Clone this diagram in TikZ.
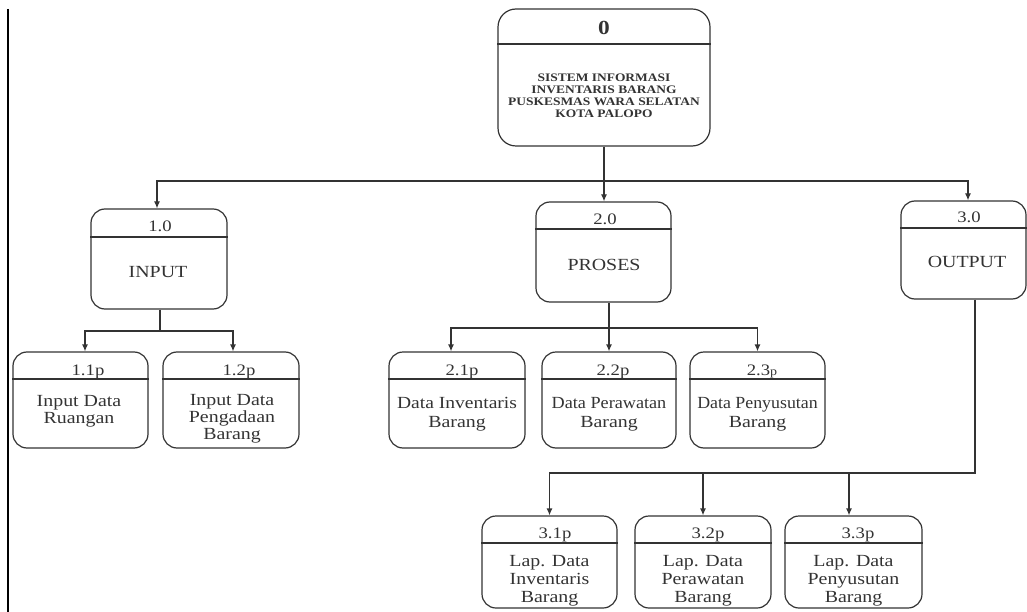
\documentclass[tikz,border=0pt]{standalone}
\usepackage{fontspec}
\setmainfont{Liberation Serif}
\usetikzlibrary{arrows.meta,calc}
\definecolor{boxc}{HTML}{333333}
\definecolor{txtc}{HTML}{333333}
\newcommand\sx[1]{\scalebox{1.17}[1]{#1}}
\newcommand\sxn[2]{\scalebox{#1}[1]{#2}}
\tikzset{
  box/.style={draw=boxc, line width=1.2pt, rounded corners=14pt, inner sep=0pt},
  lbl/.style={anchor=base, text=txtc, font=\fontsize{16}{17}\selectfont, inner sep=0pt},
  txt/.style={align=center, text=txtc, font=\fontsize{17}{18}\selectfont, inner sep=0pt},
  conn/.style={draw=boxc, line width=1.2pt},
  arr/.style={conn, -{Latex[length=7pt,width=6pt]}},
  divl/.style={draw=boxc, line width=1.2pt}
}
\begin{document}
\begin{tikzpicture}[x=1pt,y=-1pt]
\useasboundingbox (0,0) rectangle (1027,612);
\draw[black, line width=1.3pt] (8,9) -- (8,612);

% top box
\node[box, rounded corners=18pt, minimum width=212pt, minimum height=137pt] (b0) at (604,77.5) {};
\draw[divl] (b0.west |- 0,44) -- (b0.east |- 0,44);
\node[anchor=base, text=txtc, font=\fontsize{20}{22}\selectfont\bfseries, inner sep=0pt] (l0) at (604,35) {\sx{0}};
\node[align=center, text=txtc, font=\fontsize{11.5}{12}\selectfont\bfseries, inner sep=0pt] (t0) at (604,95.5)
  {\sx{SISTEM INFORMASI}\\\sx{INVENTARIS BARANG}\\\sx{PUSKESMAS WARA SELATAN}\\\sx{KOTA PALOPO}};

% level 1
\node[box, minimum width=136pt, minimum height=100pt] (b1) at (159,259) {};
\draw[divl] (b1.west |- 0,237) -- (b1.east |- 0,237);
\node[lbl] (l1) at (160,232) {\sx{1.0}};
\node[txt, anchor=base] (t1) at (158,277) {\sx{INPUT}};

\node[box, minimum width=135pt, minimum height=100pt] (b2) at (603.5,252) {};
\draw[divl] (b2.west |- 0,229) -- (b2.east |- 0,229);
\node[lbl] (l2) at (605,225) {\sx{2.0}};
\node[txt, anchor=base] (t2) at (604,270) {\sx{PROSES}};

\node[box, minimum width=125pt, minimum height=98pt] (b3) at (963.5,250) {};
\draw[divl] (b3.west |- 0,228) -- (b3.east |- 0,228);
\node[lbl] (l3) at (969,223) {\sx{3.0}};
\node[txt, anchor=base] (t3) at (967,267) {\sx{OUTPUT}};

% level 2 under INPUT
\node[box, minimum width=135pt, minimum height=96pt] (b11) at (80.5,400) {};
\draw[divl] (b11.west |- 0,379) -- (b11.east |- 0,379);
\node[lbl] (l11) at (88,375) {\sx{1.1p}};
\node[txt] (t11) at (79,411) {\sx{Input Data}\\[-1pt]\sx{Ruangan}};

\node[box, minimum width=136pt, minimum height=96pt] (b12) at (231,400) {};
\draw[divl] (b12.west |- 0,379) -- (b12.east |- 0,379);
\node[lbl] (l12) at (239,375) {\sx{1.2p}};
\node[txt] (t12) at (232,419) {\sx{Input Data}\\[-1pt]\sx{Pengadaan}\\[-1pt]\sx{Barang}};

% level 2 under PROSES
\node[box, minimum width=136pt, minimum height=96pt] (b21) at (457,400) {};
\draw[divl] (b21.west |- 0,379) -- (b21.east |- 0,379);
\node[lbl] (l21) at (462,375) {\sx{2.1p}};
\node[txt] (t21) at (457,414) {\sxn{1.15}{Data Inventaris}\\[1pt]\sx{Barang}};

\node[box, minimum width=134pt, minimum height=96pt] (b22) at (609,400) {};
\draw[divl] (b22.west |- 0,379) -- (b22.east |- 0,379);
\node[lbl] (l22) at (613,375) {\sx{2.2p}};
\node[txt] (t22) at (609,414) {\sxn{1.07}{Data Perawatan}\\[1pt]\sx{Barang}};

\node[box, minimum width=135pt, minimum height=96pt] (b23) at (757.5,400) {};
\draw[divl] (b23.west |- 0,379) -- (b23.east |- 0,379);
\node[lbl] (l23) at (762,375) {\sx{2.3{\fontsize{12}{13}\selectfont p}}};
\node[txt] (t23) at (757.5,414) {\sxn{1.05}{Data Penyusutan}\\[1pt]\sx{Barang}};

% level 2 under OUTPUT
\node[box, minimum width=135pt, minimum height=92pt] (b31) at (549.5,562) {};
\draw[divl] (b31.west |- 0,543) -- (b31.east |- 0,543);
\node[lbl] (l31) at (555,538) {\sx{3.1p}};
\node[txt] (t31) at (549.5,581) {\sx{Lap. Data}\\\sx{Inventaris}\\\sx{Barang}};

\node[box, minimum width=136pt, minimum height=92pt] (b32) at (703,562) {};
\draw[divl] (b32.west |- 0,543) -- (b32.east |- 0,543);
\node[lbl] (l32) at (708,538) {\sx{3.2p}};
\node[txt] (t32) at (703,581) {\sx{Lap. Data}\\\sx{Perawatan}\\\sx{Barang}};

\node[box, minimum width=137pt, minimum height=92pt] (b33) at (853.5,562) {};
\draw[divl] (b33.west |- 0,543) -- (b33.east |- 0,543);
\node[lbl] (l33) at (858,538) {\sx{3.3p}};
\node[txt] (t33) at (853.5,581) {\sx{Lap. Data}\\\sx{Penyusutan}\\\sx{Barang}};

% connectors from 0
\coordinate (j0) at (b0.south |- 0,181);
\coordinate (b3in) at ([xshift=4.5pt]b3.north);
\draw[conn] (b0.south) -- (j0);
\draw[arr] (j0) -| ([xshift=-2pt]b1.north);
\draw[arr] (j0) -- (b0.south |- b2.north);
\draw[arr] (j0) -| (b3in);

% from 1.0
\coordinate (j1) at ([xshift=1pt]b1.south |- 0,331);
\draw[conn] ([xshift=1pt]b1.south) -- (j1);
\draw[arr] (j1) -| ([xshift=4.5pt]b11.north);
\draw[arr] (j1) -| ([xshift=2pt]b12.north);

% from 2.0
\coordinate (j2) at (b22.north |- 0,328);
\draw[arr] (b2.south -| b22.north) -- (b22.north);
\draw[arr] (j2) -| ([xshift=-6pt]b21.north);
\draw[arr] (j2) -| (b23.north);

% from 3.0
\coordinate (o3) at ([xshift=11.5pt]b3.south);
\coordinate (j3) at (o3 |- 0,473);
\draw[arr] (o3) -- (j3) -| (b31.north);
\draw[arr] (b32.north |- j3) -- (b32.north);
\draw[arr] ([xshift=-4.5pt]b33.north |- j3) -- ([xshift=-4.5pt]b33.north);
\end{tikzpicture}
\end{document}
